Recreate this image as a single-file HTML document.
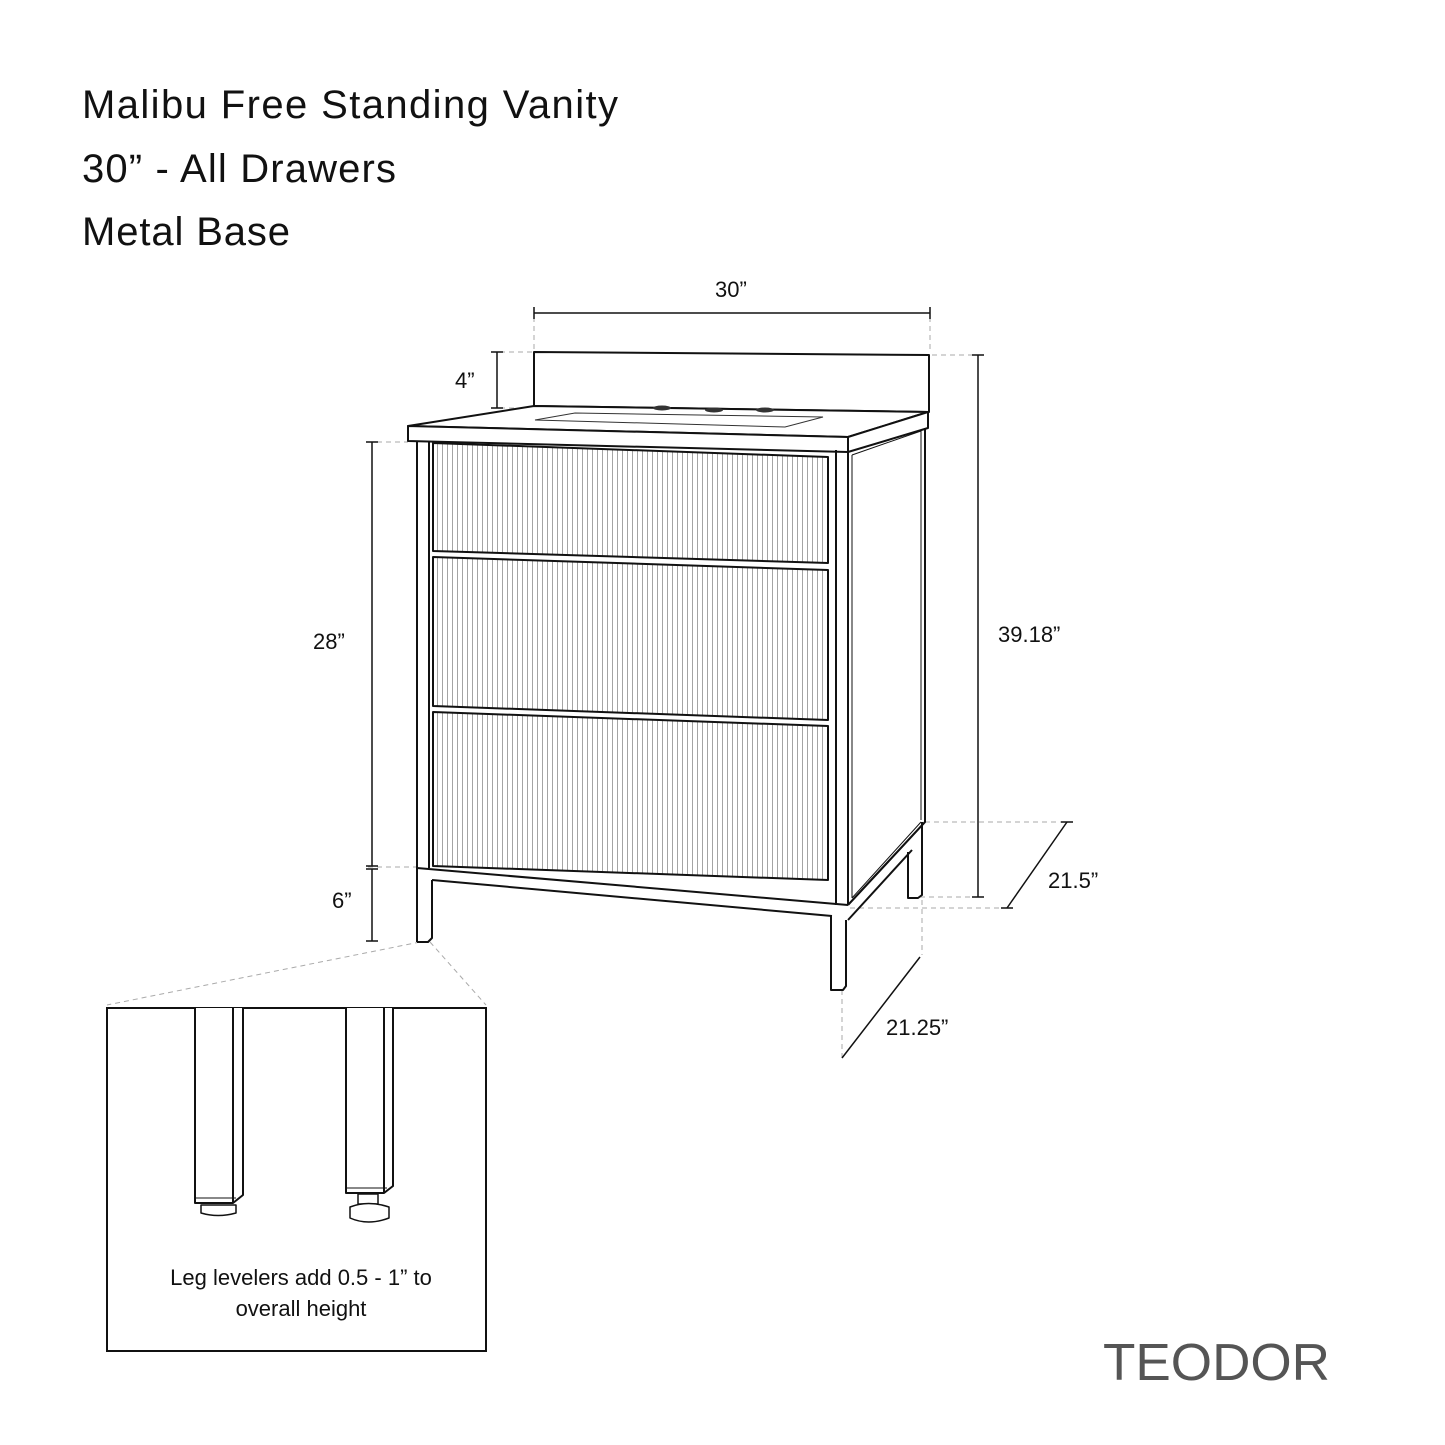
<!DOCTYPE html>
<html><head><meta charset="utf-8"><style>
html,body{margin:0;padding:0;background:#fff}
svg{display:block}
text{font-family:"Liberation Sans",sans-serif;fill:#111}
</style></head><body>
<svg width="1445" height="1445" viewBox="0 0 1445 1445" xmlns="http://www.w3.org/2000/svg">
<defs>
<pattern id="fl" x="0" y="0" width="5" height="10" patternUnits="userSpaceOnUse">
<line x1="2.5" y1="0" x2="2.5" y2="10" stroke="#9a9a9a" stroke-width="0.9"/>
</pattern>
</defs>
<text x="82" y="118" font-size="40" textLength="536" lengthAdjust="spacing">Malibu Free Standing Vanity</text>
<text x="82" y="182" font-size="40" textLength="314" lengthAdjust="spacing">30” - All Drawers</text>
<text x="82" y="245" font-size="40" textLength="208" lengthAdjust="spacing">Metal Base</text>

<g stroke="#aaa" stroke-width="1" stroke-dasharray="5,4" fill="none">
<line x1="534" y1="308" x2="534" y2="350"/>
<line x1="930" y1="308" x2="930" y2="350"/>
<line x1="500" y1="352" x2="534" y2="352"/>
<line x1="500" y1="408" x2="534" y2="408"/>
<line x1="932" y1="355" x2="978" y2="355"/>
<line x1="368" y1="442" x2="408" y2="442"/>
<line x1="368" y1="867" x2="417" y2="867"/>
<line x1="925" y1="822" x2="1070" y2="822"/>
<line x1="920" y1="897" x2="978" y2="897"/>
<line x1="850" y1="908" x2="1005" y2="908"/>
<line x1="922" y1="900" x2="922" y2="955"/>
<line x1="842" y1="990" x2="842" y2="1058"/>
<line x1="420" y1="942" x2="107" y2="1005"/>
<line x1="430" y1="942" x2="486" y2="1005"/>
</g>

<g stroke="#111" stroke-width="1.5" fill="none">
<line x1="534" y1="313" x2="930" y2="313"/><line x1="534" y1="307" x2="534" y2="319"/><line x1="930" y1="307" x2="930" y2="319"/>
<line x1="497" y1="352" x2="497" y2="408"/><line x1="491" y1="352" x2="503" y2="352"/><line x1="491" y1="408" x2="503" y2="408"/>
<line x1="372" y1="442" x2="372" y2="866"/><line x1="366" y1="442" x2="378" y2="442"/><line x1="366" y1="866" x2="378" y2="866"/>
<line x1="372" y1="869" x2="372" y2="941"/><line x1="366" y1="869" x2="378" y2="869"/><line x1="366" y1="941" x2="378" y2="941"/>
<line x1="978" y1="355" x2="978" y2="897"/><line x1="972" y1="355" x2="984" y2="355"/><line x1="972" y1="897" x2="984" y2="897"/>
<line x1="1067" y1="822" x2="1007" y2="908"/><line x1="1061" y1="822" x2="1073" y2="822"/><line x1="1001" y1="908" x2="1013" y2="908"/>
<line x1="920" y1="957" x2="842" y2="1058"/>
</g>
<text x="715" y="297" font-size="22">30”</text>
<text x="455" y="388" font-size="22">4”</text>
<text x="313" y="649" font-size="22">28”</text>
<text x="332" y="908" font-size="22">6”</text>
<text x="998" y="642" font-size="22">39.18”</text>
<text x="1048" y="888" font-size="22">21.5”</text>
<text x="886" y="1035" font-size="22">21.25”</text>

<polygon points="433,443 828,457 828,563 433,551" fill="url(#fl)"/>
<polygon points="433,557 828,570 828,720 433,706" fill="url(#fl)"/>
<polygon points="433,712 828,726 828,880 433,866" fill="url(#fl)"/>

<g stroke="#111" stroke-width="2" fill="#fff" stroke-linejoin="round">
<polygon points="534,352 929,355 929,412 534,406"/>
<polygon points="534,406 928,412 848,437 408,426"/>
<polygon points="408,426 848,437 848,452 408,441"/>
<polygon points="848,437 928,412 928,428 848,452"/>
</g>
<polygon points="535,420 575,413 823,417 785,427" fill="none" stroke="#333" stroke-width="1"/>
<ellipse cx="662" cy="408" rx="9" ry="2.5" fill="#333"/>
<ellipse cx="714" cy="410" rx="9" ry="2.5" fill="#333"/>
<ellipse cx="765" cy="410" rx="9" ry="2.5" fill="#333"/>

<g stroke="#111" stroke-width="2" fill="none" stroke-linejoin="round">
<polyline points="848,452 848,905"/>
<polyline points="925,428 925,822 848,905"/>
<line x1="852" y1="455" x2="921" y2="431" stroke-width="1"/>
<line x1="852" y1="455" x2="852" y2="898" stroke-width="1"/>
<line x1="921" y1="431" x2="921" y2="820" stroke-width="1"/>
<line x1="852" y1="898" x2="921" y2="822" stroke-width="1"/>
<line x1="417" y1="441" x2="417" y2="942"/>
<line x1="429" y1="442" x2="429" y2="868"/>
<line x1="836" y1="450" x2="836" y2="905"/>
<polygon points="433,443 828,457 828,563 433,551"/>
<polygon points="433,557 828,570 828,720 433,706"/>
<polygon points="433,712 828,726 828,880 433,866"/>
<polyline points="417,868 848,905"/>
<polyline points="432,880 832,916"/>
<line x1="848" y1="905" x2="925" y2="822"/>
<line x1="848" y1="920" x2="912" y2="850"/>
<polyline points="417,942 428,942 432,938 432,880"/>
<polyline points="831,916 831,990 843,990 846,986 846,920"/>
<polyline points="908,852 908,898 918,898 922,895 922,822"/>
</g>

<rect x="107" y="1008" width="379" height="343" fill="#fff" stroke="#111" stroke-width="2"/>
<g stroke="#111" stroke-width="2" fill="#fff" stroke-linejoin="round">
<polyline points="195,1008 195,1203 233,1203 243,1195 243,1008"/>
<line x1="233" y1="1008" x2="233" y2="1203"/>
<line x1="195" y1="1198" x2="236" y2="1198" stroke-width="1"/>
<path d="M201,1205 L201,1213 Q218,1218 236,1213 L236,1205 Z" stroke-width="1.5"/>
<polyline points="346,1008 346,1193 384,1193 393,1186 393,1008"/>
<line x1="384" y1="1008" x2="384" y2="1193"/>
<line x1="346" y1="1188" x2="387" y2="1188" stroke-width="1"/>
<rect x="358" y="1194" width="20" height="10" stroke-width="1.5"/>
<path d="M350,1207 Q368,1200 389,1207 L389,1218 Q368,1226 350,1218 Z" stroke-width="1.5"/>
</g>
<text x="301" y="1285" font-size="22" text-anchor="middle">Leg levelers add 0.5 - 1” to</text>
<text x="301" y="1316" font-size="22" text-anchor="middle">overall height</text>

<text x="1103" y="1380" font-size="52" textLength="227" lengthAdjust="spacingAndGlyphs" style="fill:#555">TEODOR</text>
</svg>
</body></html>
